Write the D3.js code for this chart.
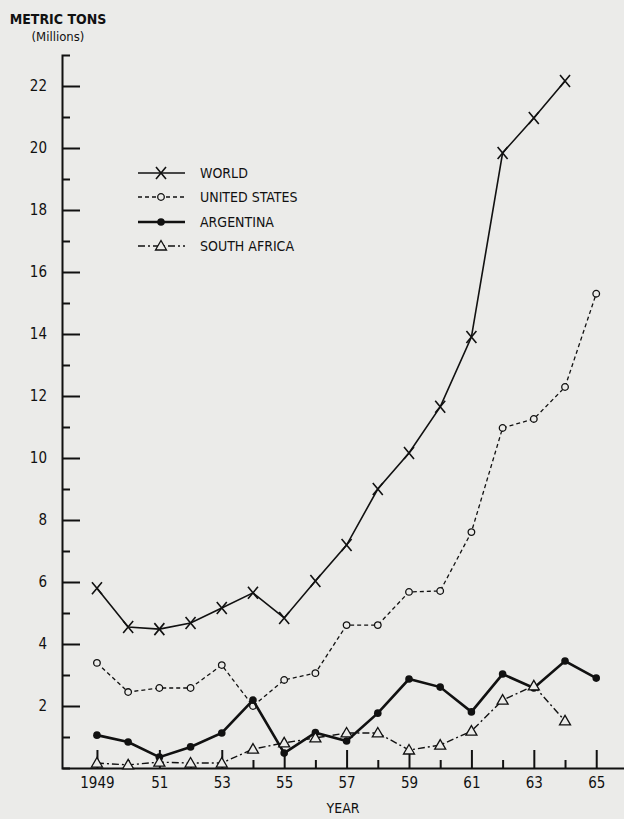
<!DOCTYPE html>
<html>
<head>
<meta charset="utf-8">
<script src="https://cdn.jsdelivr.net/npm/d3@7"></script>
<style>
  body { margin: 0; background: #ebebe9; }
  svg { display: block; }
</style>
</head>
<body>
<svg id="chart"></svg>
<script>
const years = [1949, 1950, 1951, 1952, 1953, 1954, 1955, 1956, 1957, 1958, 1959, 1960, 1961, 1962, 1963, 1964, 1965];
const world = [5.8, 4.55, 4.48, 4.68, 5.16, 5.65, 4.84, 6.03, 7.19, 9.0, 10.16, 11.65, 13.9, 19.84, 20.97, 22.16, null];
const unitedStates = [3.39, 2.45, 2.58, 2.58, 3.32, 2.0, 2.84, 3.06, 4.61, 4.61, 5.68, 5.71, 7.61, 10.97, 11.26, 12.29, 15.3];
const argentina = [1.06, 0.84, 0.35, 0.68, 1.13, 2.19, 0.48, 1.14, 0.87, 1.77, 2.87, 2.61, 1.81, 3.03, 2.58, 3.45, 2.9];
const southAfrica = [0.16, 0.1, 0.19, 0.16, 0.16, 0.61, 0.81, 0.97, 1.13, 1.13, 0.58, 0.74, 1.19, 2.19, 2.65, 1.52, null];

const seriesNames = ["WORLD", "UNITED STATES", "ARGENTINA", "SOUTH AFRICA"];
const yMajorTicks = [2, 4, 6, 8, 10, 12, 14, 16, 18, 20, 22];
const yMinorTicks = [1, 3, 5, 7, 9, 11, 13, 15, 17, 19, 21];
const xMajorTicks = [1949, 1951, 1953, 1955, 1957, 1959, 1961, 1963, 1965];
const xMinorTicks = [1950, 1952, 1954, 1956, 1958, 1960, 1962, 1964];

const W = 624, H = 819;
const font = "'Liberation Sans Narrow', 'DejaVu Sans Condensed', sans-serif";
const bg = "#ebebe9";

const svg = d3.select("#chart").attr("width", W).attr("height", H);
svg.append("rect").attr("width", W).attr("height", H).attr("fill", bg);

const x = d3.scaleLinear().domain([1947.88, 1965.89]).range([62, 624]);
const y = d3.scaleLinear().domain([0, 23]).range([768, 55]);

// y axis: long ticks on even values, short on odd, drawn inward
const yAxisG = svg.append("g").attr("transform", `translate(${x(1947.88)},0)`);
yAxisG.call(d3.axisLeft(y).tickValues(yMajorTicks).tickSizeInner(-18).tickSizeOuter(-8).tickPadding(15).tickFormat(d3.format("d")));
const yMinorG = svg.append("g").attr("transform", `translate(${x(1947.88)},0)`);
yMinorG.call(d3.axisLeft(y).tickValues(yMinorTicks).tickSizeInner(-8).tickSizeOuter(0).tickFormat(""));
yMinorG.select(".domain").remove();

// x axis: ticks pointing up
const xAxisG = svg.append("g").attr("transform", `translate(0,${y(0)})`);
xAxisG.call(d3.axisBottom(x).tickValues(xMajorTicks).tickSizeInner(-18).tickSizeOuter(0).tickPadding(9)
    .tickFormat(d => d === 1949 ? "1949" : String(d).slice(2)));
const xMinorG = svg.append("g").attr("transform", `translate(0,${y(0)})`);
xMinorG.call(d3.axisBottom(x).tickValues(xMinorTicks).tickSizeInner(-8).tickSizeOuter(0).tickFormat(""));
xMinorG.select(".domain").remove();

svg.selectAll(".domain, .tick line").attr("stroke", "#111").attr("stroke-width", 2);
svg.selectAll(".tick text").attr("fill", "#111").style("font-family", font).style("font-size", "15px");

// titles
svg.append("text").attr("x", 58).attr("y", 24).attr("text-anchor", "middle")
    .style("font-family", font).style("font-size", "14px").style("font-weight", "bold").attr("fill", "#111")
    .text("METRIC TONS");
svg.append("text").attr("x", 58).attr("y", 41).attr("text-anchor", "middle")
    .style("font-family", font).style("font-size", "13px").attr("fill", "#111")
    .text("(Millions)");
svg.append("text").attr("x", 343).attr("y", 813).attr("text-anchor", "middle")
    .style("font-family", font).style("font-size", "14px").attr("fill", "#111")
    .text("YEAR");

const styles = [
    { values: world, width: 1.6, dash: null, marker: "x" },
    { values: unitedStates, width: 1.3, dash: "4,3", marker: "circle" },
    { values: argentina, width: 2.6, dash: null, marker: "dot" },
    { values: southAfrica, width: 1.4, dash: "7,3,2,3", marker: "triangle" }
];

const line = d3.line()
    .defined(d => d.v != null)
    .x(d => x(d.year))
    .y(d => y(d.v));

function drawMarker(g, kind) {
    if (kind === "x") {
        g.append("path").attr("d", "M-5,-6L5,6M-5,6L5,-6")
            .attr("stroke", "#111").attr("stroke-width", 1.6).attr("fill", "none");
    } else if (kind === "circle") {
        g.append("circle").attr("r", 3.3).attr("fill", bg).attr("stroke", "#111").attr("stroke-width", 1.3);
    } else if (kind === "dot") {
        g.append("circle").attr("r", 3.8).attr("fill", "#111");
    } else {
        g.append("path").attr("d", "M0,-5.5L5.5,4L-5.5,4Z")
            .attr("fill", bg).attr("stroke", "#111").attr("stroke-width", 1.3);
    }
}

styles.forEach(s => {
    const pts = years.map((year, i) => ({ year, v: s.values[i] }));
    svg.append("path").datum(pts)
        .attr("d", line)
        .attr("fill", "none")
        .attr("stroke", "#111")
        .attr("stroke-width", s.width)
        .attr("stroke-dasharray", s.dash);
    svg.append("g").selectAll("g")
        .data(pts.filter(d => d.v != null))
        .join("g")
        .attr("transform", d => `translate(${x(d.year)},${y(d.v)})`)
        .each(function () { drawMarker(d3.select(this), s.marker); });
});

// legend
const legendY = [173, 197, 222, 246];
seriesNames.forEach((name, i) => {
    const s = styles[i];
    const g = svg.append("g").attr("transform", `translate(0,${legendY[i]})`);
    g.append("line").attr("x1", 138).attr("x2", 185)
        .attr("stroke", "#111").attr("stroke-width", s.width).attr("stroke-dasharray", s.dash);
    drawMarker(g.append("g").attr("transform", "translate(161,0)"), s.marker);
    g.append("text").attr("x", 200).attr("y", 5)
        .style("font-family", font).style("font-size", "14px").attr("fill", "#111")
        .text(name);
});
</script>
</body>
</html>
